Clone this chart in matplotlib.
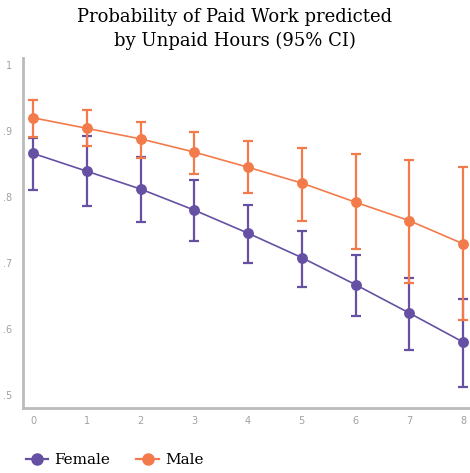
import matplotlib
matplotlib.use("Agg")
import matplotlib.pyplot as plt
from matplotlib.ticker import FuncFormatter
from matplotlib.lines import Line2D

hours = [0, 1, 2, 3, 4, 5, 6, 7, 8]
female = [0.866, 0.839, 0.812, 0.780, 0.745, 0.708, 0.667, 0.624, 0.580]
female_lo = [0.811, 0.786, 0.762, 0.733, 0.700, 0.664, 0.620, 0.568, 0.512]
female_hi = [0.889, 0.892, 0.861, 0.826, 0.788, 0.749, 0.712, 0.677, 0.645]
male = [0.920, 0.904, 0.888, 0.868, 0.845, 0.821, 0.792, 0.764, 0.729]
male_lo = [0.891, 0.877, 0.859, 0.835, 0.806, 0.764, 0.721, 0.670, 0.614]
male_hi = [0.947, 0.932, 0.914, 0.898, 0.885, 0.874, 0.865, 0.856, 0.845]
yticks = [0.5, 0.6, 0.7, 0.8, 0.9, 1.0]

purple = "#6650a4"
orange = "#f37b4b"

fig = plt.figure(figsize=(4.7, 4.73), dpi=100)
ax = fig.add_axes([23/470, 1-408/473, 447/470, 350/473])

def draw(y, lo, hi, color, z):
    err = [[v - l for v, l in zip(y, lo)], [h - v for v, h in zip(y, hi)]]
    ax.errorbar(hours, y, yerr=err, color=color, ecolor=color, elinewidth=1.6,
                capsize=3.5, capthick=1.6, lw=1.2, marker='o', markersize=6.8,
                zorder=z)

draw(female, female_lo, female_hi, purple, 2)
draw(male, male_lo, male_hi, orange, 3)

ax.set_xlim(-0.186, 8.13)
ax.set_ylim(0.48, 1.0106)
ax.set_xticks(hours)
ax.set_yticks(yticks)
ax.yaxis.set_major_formatter(FuncFormatter(lambda v, p: "1" if v >= 0.999 else ("%.1f" % v).lstrip("0")))
for s in ["top", "right"]:
    ax.spines[s].set_visible(False)
for s in ["left", "bottom"]:
    ax.spines[s].set_color("#bbbbbb")
    ax.spines[s].set_linewidth(2)
ax.tick_params(length=0, labelsize=7, colors="#a0a0a0")
ax.tick_params(axis='x', pad=6)
ax.tick_params(axis='y', pad=8)

fig.text(0.5, 1-29/473, "Probability of Paid Work predicted\nby Unpaid Hours (95% CI)",
         ha='center', va='center', fontsize=13, family='DejaVu Serif', linespacing=1.35)

handles = [Line2D([], [], color=purple, marker='o', markersize=8, lw=1.6),
           Line2D([], [], color=orange, marker='o', markersize=8, lw=1.6)]
fig.legend(handles, ["Female", "Male"], loc='center left', bbox_to_anchor=(0.025, 1-460/473), ncol=2,
           frameon=False, prop={'family': 'DejaVu Serif', 'size': 11},
           handlelength=1.5, columnspacing=1.7, handletextpad=0.4)

fig.savefig("out.png", dpi=100)
